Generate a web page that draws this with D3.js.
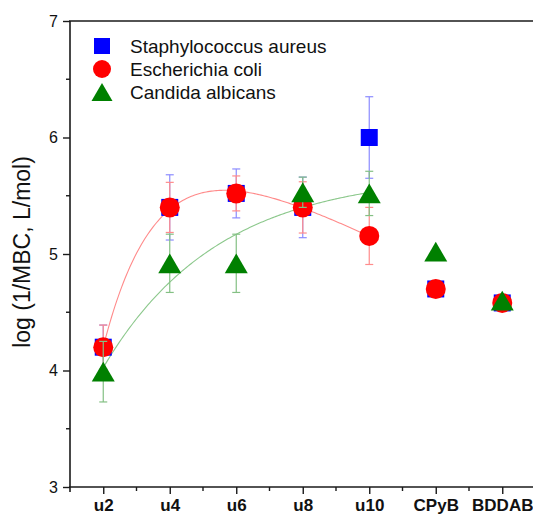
<!DOCTYPE html>
<html>
<head>
<meta charset="utf-8">
<script src="https://cdn.jsdelivr.net/npm/d3@7"></script>
<style>
  body { margin: 0; background: #fff; }
  svg { display: block; font-family: "Liberation Sans", Arial, sans-serif; }
</style>
</head>
<body>
<svg></svg>
<script>
const categories = ["u2", "u4", "u6", "u8", "u10", "CPyB", "BDDAB"];
// spacer length of the u-series, used for the fitted curves
const chainLength = [2, 4, 6, 8, 10];

const staph = [4.2, 5.4, 5.52, 5.4, 6.0, 4.7, 4.58];
const staphErr = [0.19, 0.28, 0.21, 0.26, 0.35, 0, 0];
const ecoli = [4.2, 5.4, 5.52, 5.4, 5.155, 4.7, 4.58];
const ecoliErr = [0.19, 0.215, 0.15, 0.22, 0.245, 0, 0];
const candida = [3.99, 4.92, 4.92, 5.53, 5.52, 5.02, 4.6];
const candidaErr = [0.26, 0.25, 0.25, 0.13, 0.19, 0, 0];

const yTicks = [3, 4, 5, 6, 7];

const width = 533;
const height = 516;
const svg = d3.select("svg").attr("width", width).attr("height", height);

const x = d3.scaleLinear().domain([-0.5, 6.5]).range([70, 535.5]);
const y = d3.scaleLinear().domain([3, 7]).range([487, 21]);

// least squares fit with given basis functions
const lsq = (xs, ys, basis) => {
  const n = basis.length;
  const A = d3.range(n).map(() => new Array(n + 1).fill(0));
  xs.forEach((xv, i) => {
    const row = basis.map((f) => f(xv));
    for (let r = 0; r < n; r++) {
      for (let c = 0; c < n; c++) A[r][c] += row[r] * row[c];
      A[r][n] += row[r] * ys[i];
    }
  });
  for (let p = 0; p < n; p++) {
    for (let r = p + 1; r < n; r++) {
      const f = A[r][p] / A[p][p];
      for (let c = p; c <= n; c++) A[r][c] -= f * A[p][c];
    }
  }
  const coef = new Array(n).fill(0);
  for (let r = n - 1; r >= 0; r--) {
    let s = A[r][n];
    for (let c = r + 1; c < n; c++) s -= A[r][c] * coef[c];
    coef[r] = s / A[r][r];
  }
  return (xv) => basis.reduce((s, f, i) => s + coef[i] * f(xv), 0);
};

const redFit = lsq(chainLength, ecoli.slice(0, 5), [
  () => 1,
  (t) => t,
  (t) => Math.exp(-0.6 * t),
]);
const greenFit = lsq(chainLength, candida.slice(0, 5), [
  () => 1,
  (t) => Math.exp(-0.29 * t),
]);

// frame
const axisColor = "#1a1a1a";
svg.append("line")
  .attr("x1", 69).attr("x2", width)
  .attr("y1", y(7)).attr("y2", y(7))
  .attr("stroke", axisColor).attr("stroke-width", 1.6);

// y axis
const yAxis = d3.axisLeft(y).tickValues(yTicks).tickFormat(d3.format("d")).tickSize(7).tickPadding(5);
const yAxisG = svg.append("g").attr("transform", "translate(70,0)").call(yAxis);
yAxisG.select(".domain").attr("stroke", axisColor).attr("stroke-width", 1.6)
  .attr("d", `M0,${y(7)}V${y(3) + 5}`);
yAxisG.selectAll(".tick line").attr("stroke", axisColor).attr("stroke-width", 1.4);
yAxisG.selectAll(".tick text").attr("font-size", 16).attr("fill", "#111")
  .attr("font-family", "Liberation Sans, Arial, sans-serif");
svg.append("g").selectAll("line")
  .data([3.5, 4.5, 5.5, 6.5])
  .join("line")
  .attr("x1", 66).attr("x2", 70)
  .attr("y1", (d) => y(d)).attr("y2", (d) => y(d))
  .attr("stroke", axisColor).attr("stroke-width", 1.4);

// x axis
const xAxis = d3.axisBottom(x).tickValues(d3.range(categories.length))
  .tickFormat((i) => categories[i]).tickSize(7).tickPadding(5);
const xAxisG = svg.append("g").attr("transform", `translate(0,${y(3)})`).call(xAxis);
xAxisG.select(".domain").attr("stroke", axisColor).attr("stroke-width", 1.6)
  .attr("d", `M69,0H${width}`);
xAxisG.selectAll(".tick line").attr("stroke", axisColor).attr("stroke-width", 1.4);
xAxisG.selectAll(".tick text").attr("font-size", 17).attr("font-weight", "bold")
  .attr("fill", "#111").attr("font-family", "Liberation Sans, Arial, sans-serif");
svg.append("g").selectAll("line")
  .data(d3.range(0.5, 6.5, 1))
  .join("line")
  .attr("x1", (d) => x(d)).attr("x2", (d) => x(d))
  .attr("y1", y(3)).attr("y2", y(3) + 4)
  .attr("stroke", axisColor).attr("stroke-width", 1.4);

svg.append("text")
  .attr("transform", `translate(30,${(y(3) + y(7)) / 2 - 2}) rotate(-90)`)
  .attr("text-anchor", "middle")
  .attr("font-size", 23)
  .attr("fill", "#111")
  .text("log (1/MBC, L/mol)");

// fitted curves
const fitLine = d3.line()
  .x((d) => x((d[0] - 2) / 2))
  .y((d) => y(d[1]));
const sampleFit = (f) => d3.range(2, 10.001, 0.05).map((t) => [t, f(t)]);

svg.append("path").datum(sampleFit(redFit))
  .attr("d", fitLine).attr("fill", "none")
  .attr("stroke", "#ff8a8a").attr("stroke-width", 1.1);
svg.append("path").datum(sampleFit(greenFit))
  .attr("d", fitLine).attr("fill", "none")
  .attr("stroke", "#8cc88c").attr("stroke-width", 1.1);

const symbols = {
  square: (s) => `M${-s / 2},${-s / 2}h${s}v${s}h${-s}Z`,
  circle: (s) => `M${-s / 2},0a${s / 2},${s / 2} 0 1,0 ${s},0a${s / 2},${s / 2} 0 1,0 ${-s},0Z`,
  triangle: (s) => `M0,${-s * 0.43}L${s / 2},${s * 0.43}L${-s / 2},${s * 0.43}Z`,
};

const series = [
  { name: "Staphylococcus aureus", values: staph, errors: staphErr, color: "#0000ff", errColor: "#8c8cff", shape: "square", size: 17, legendSize: 16 },
  { name: "Escherichia coli", values: ecoli, errors: ecoliErr, color: "#ff0000", errColor: "#ff8c8c", shape: "circle", size: 20, legendSize: 18 },
  { name: "Candida albicans", values: candida, errors: candidaErr, color: "#008000", errColor: "#84c084", shape: "triangle", size: 23, legendSize: 21 },
];

series.forEach((s) => {
  const g = svg.append("g");
  const bars = s.values.map((v, i) => ({ i, v, e: s.errors[i] })).filter((d) => d.e > 0);
  const eb = g.selectAll("g.err").data(bars).join("g").attr("class", "err")
    .attr("stroke", s.errColor).attr("stroke-width", 1.2);
  eb.append("line")
    .attr("x1", (d) => x(d.i)).attr("x2", (d) => x(d.i))
    .attr("y1", (d) => y(d.v + d.e)).attr("y2", (d) => y(d.v - d.e));
  eb.append("line")
    .attr("x1", (d) => x(d.i) - 4).attr("x2", (d) => x(d.i) + 4)
    .attr("y1", (d) => y(d.v + d.e)).attr("y2", (d) => y(d.v + d.e));
  eb.append("line")
    .attr("x1", (d) => x(d.i) - 4).attr("x2", (d) => x(d.i) + 4)
    .attr("y1", (d) => y(d.v - d.e)).attr("y2", (d) => y(d.v - d.e));
  g.selectAll("path.mark").data(s.values).join("path").attr("class", "mark")
    .attr("transform", (d, i) => `translate(${x(i)},${y(d)})`)
    .attr("d", symbols[s.shape](s.size))
    .attr("fill", s.color);
});

// legend
const legend = svg.append("g").attr("transform", "translate(102,46)");
series.forEach((s, k) => {
  const row = legend.append("g").attr("transform", `translate(0,${k * 23})`);
  row.append("path").attr("d", symbols[s.shape](s.legendSize)).attr("fill", s.color);
  row.append("text").attr("x", 28).attr("y", 7).attr("font-size", 19)
    .attr("fill", "#111").text(s.name);
});
</script>
</body>
</html>
